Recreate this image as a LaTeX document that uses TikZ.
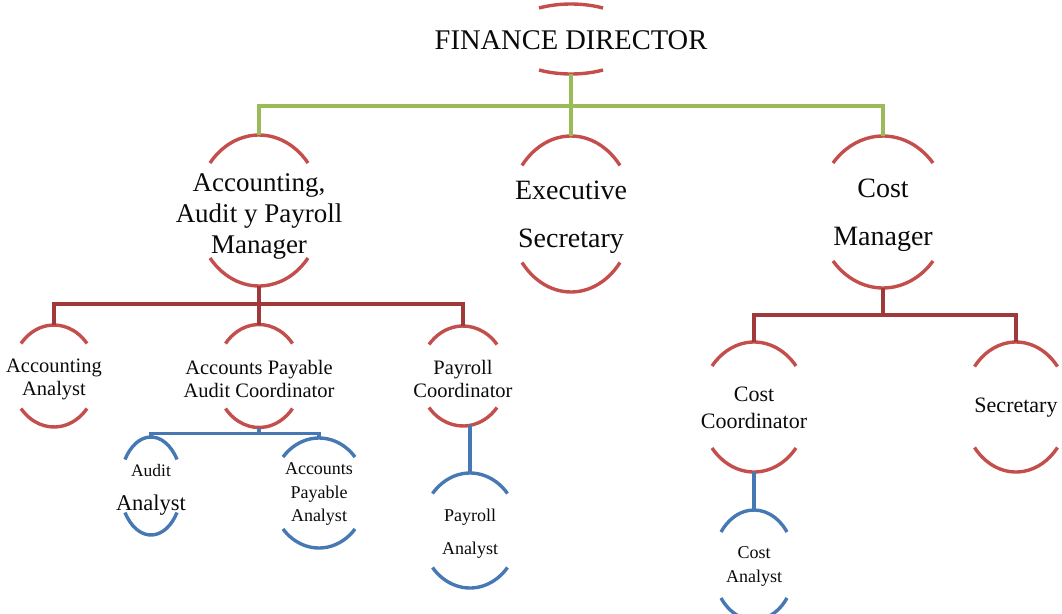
\documentclass[tikz,border=0pt]{standalone}
\usepackage{fontspec}
\setmainfont{Liberation Serif}
\usetikzlibrary{calc}
\definecolor{arcred}{RGB}{196,78,76}
\definecolor{linered}{RGB}{160,58,58}
\definecolor{linegreen}{RGB}{155,187,89}
\definecolor{lineblue}{RGB}{70,120,180}
\definecolor{txt}{RGB}{10,10,10}
\tikzset{
  lbl/.style={align=center, inner sep=0pt, text=txt},
  arcline/.style={line width=3.4pt},
  redarc/.style={arcline, draw=arcred},
  bluearc/.style={arcline, draw=lineblue},
  conn/.style={line width=3.1pt},
  gconn/.style={conn, draw=linegreen},
  rconn/.style={conn, draw=linered},
  bconn/.style={conn, draw=lineblue},
}
% [#1 offset of arc centre above text centre] #2 node, #3 half width, #4 endpoint offset, #5 apex offset, #6 style
\newcommand\brackets[6][0]{%
  \coordinate (#2-c) at ($(#2.center)+(0,-#1)$);
  \pgfmathsetmacro\brA{asin(#4/#5)}%
  \pgfmathsetmacro\brR{#3/cos(\brA)}%
  \draw[#6] ($(#2-c)+(#3,-#4)$) arc[start angle=-\brA, end angle=\brA-180, x radius=\brR, y radius=#5];
  \draw[#6] ($(#2-c)+(-#3,#4)$) arc[start angle=180-\brA, end angle=\brA, x radius=\brR, y radius=#5];
  \coordinate (#2-t) at ($(#2-c)+(0,-#5)$);
  \coordinate (#2-b) at ($(#2-c)+(0,#5)$);
}
\begin{document}
\begin{tikzpicture}[x=1pt,y=1pt,yscale=-1]
\useasboundingbox (0,0) rectangle (1062,613);

% nodes (placed at text centres)
\node[lbl, font=\fontsize{28.5}{32}\selectfont] (fd) at (571,40.5) {FINANCE DIRECTOR};
\node[lbl, font=\fontsize{27}{31}\selectfont] (acc) at (259,216) {Accounting,\\Audit y Payroll\\Manager};
\node[lbl, font=\fontsize{28}{48}\selectfont] (exs) at (571,217) {Executive\\Secretary};
\node[lbl, font=\fontsize{28}{48}\selectfont] (cm) at (883,215) {Cost\\Manager};
\node[lbl, font=\fontsize{20.5}{23}\selectfont] (aa) at (54,379) {Accounting\\Analyst};
\node[lbl, font=\fontsize{20.5}{23}\selectfont] (apac) at (259,379) {Accounts Payable\\Audit Coordinator};
\node[lbl, font=\fontsize{20.5}{23}\selectfont] (pc) at (463,379) {Payroll\\Coordinator};
\node[lbl, font=\fontsize{20}{34}\selectfont] (aua) at (151,490) {{\fontsize{17.5}{20}\selectfont Audit}\\{\fontsize{22.5}{26}\selectfont Analyst}};
\node[lbl, font=\fontsize{18}{23.5}\selectfont] (apa) at (319,494) {Accounts\\Payable\\Analyst};
\node[lbl, font=\fontsize{18}{33}\selectfont] (pa) at (470,533.5) {Payroll\\Analyst};
\node[lbl, font=\fontsize{22}{27}\selectfont] (cc) at (754,408) {Cost\\Coordinator};
\node[lbl, font=\fontsize{22}{27}\selectfont] (sec) at (1016,408) {Secretary};
\node[lbl, font=\fontsize{18}{24}\selectfont] (ca) at (754,566.5) {Cost\\Analyst};

% arcs
\brackets[1.5]{fd}{32}{31}{35}{redarc}
\brackets[5.5]{acc}{49}{47.5}{75.5}{redarc}
\brackets[3]{exs}{49}{48.5}{78}{redarc}
\brackets[3]{cm}{50}{49}{76}{redarc}
\brackets[3]{aa}{33}{32.5}{51}{redarc}
\brackets[3]{apac}{33.5}{32.5}{51.5}{redarc}
\brackets[3]{pc}{34}{31.5}{50}{redarc}
\brackets[1]{cc}{42}{41}{65}{redarc}
\brackets[1]{sec}{41.5}{40.5}{65}{redarc}
\brackets[4]{aua}{26}{26.5}{49}{bluearc}
\brackets[1]{apa}{36}{36}{55}{bluearc}
\brackets[3]{pa}{37.5}{37}{57.5}{bluearc}
\brackets[1.5]{ca}{33}{33}{55}{bluearc}

% connectors
\draw[gconn] (fd-b) -- ($(fd-b)+(0,32)$) coordinate (gbus);
\draw[gconn] (gbus) -| (acc-t);
\draw[gconn] (gbus) -| (cm-t);
\draw[gconn] (gbus) -- (exs-t);

\draw[rconn] (acc-b) -- ($(acc-b)+(0,18)$) coordinate (rbus1);
\draw[rconn] (rbus1) -| (aa-t);
\draw[rconn] (rbus1) -| (pc-t);
\draw[rconn] (rbus1) -- (apac-t);

\draw[bconn] (apac-b) -- ($(apac-b)+(0,6)$) coordinate (bbus1);
\draw[bconn] (bbus1) -| (aua-t);
\draw[bconn] (bbus1) -| (apa-t);

\draw[bconn] (pa-t) -- ($(pa-t |- pc-b)+(0,-1)$);

\draw[rconn] (cm-b) -- ($(cm-b)+(0,27)$) coordinate (rbus2);
\draw[rconn] (rbus2) -| (cc-t);
\draw[rconn] (rbus2) -| (sec-t);

\draw[bconn] (cc-b) -- (ca-t);
\end{tikzpicture}
\end{document}
